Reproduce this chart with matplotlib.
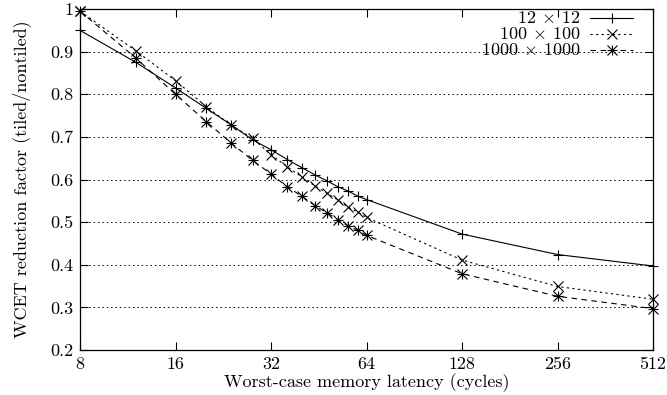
import matplotlib

matplotlib.use("Agg")
import matplotlib.pyplot as plt
from matplotlib.lines import Line2D

plt.rcParams["font.family"] = ["cmr10", "DejaVu Serif"]
plt.rcParams["mathtext.fontset"] = "cm"
plt.rcParams["axes.formatter.use_mathtext"] = True

latency = [8, 12, 16, 20, 24, 28, 32, 36, 40, 44, 48, 52, 56, 60, 64, 128, 256, 512]
tile_12 = [0.950, 0.875, 0.815, 0.767, 0.728, 0.693, 0.670, 0.647, 0.628, 0.611,
           0.597, 0.583, 0.573, 0.561, 0.553, 0.472, 0.424, 0.397]
tile_100 = [0.995, 0.902, 0.832, 0.771, 0.727, 0.697, 0.658, 0.630, 0.606, 0.585,
            0.568, 0.552, 0.535, 0.524, 0.511, 0.411, 0.349, 0.319]
tile_1000 = [0.995, 0.885, 0.800, 0.736, 0.685, 0.645, 0.613, 0.583, 0.561, 0.539,
             0.522, 0.506, 0.491, 0.481, 0.469, 0.379, 0.326, 0.297]
labels = [r"12 $\times$ 12", r"100 $\times$ 100", r"1000 $\times$ 1000"]

x_ticks = [8, 16, 32, 64, 128, 256, 512]
y_ticks = [0.2, 0.3, 0.4, 0.5, 0.6, 0.7, 0.8, 0.9, 1.0]
y_tick_labels = ["0.2", "0.3", "0.4", "0.5", "0.6", "0.7", "0.8", "0.9", "1"]

FS = 13

fig = plt.figure(figsize=(6.67, 3.95), dpi=100)
ax = fig.add_axes([0.12, 0.114, 0.859, 0.863])

# gnuplot point types: plus, cross, asterisk (plus + cross)
styles = [
    dict(linestyle="-", markers=["+"]),
    dict(linestyle=(0, (2, 3)), markers=["x"]),
    dict(linestyle=(0, (5, 4)), markers=["+", "x"]),
]
series = [tile_12, tile_100, tile_1000]
for vals, st in zip(series, styles):
    ax.plot(latency, vals, color="black", lw=0.8, linestyle=st["linestyle"], clip_on=False)
    for m in st["markers"]:
        ax.plot(latency, vals, color="black", lw=0, marker=m, ms=7, mew=0.8, clip_on=False)

ax.set_xscale("log", base=2)
ax.set_xlim(8, 512)
ax.set_ylim(0.2, 1.0)
ax.set_xticks(x_ticks)
ax.set_xticklabels([str(t) for t in x_ticks])
ax.minorticks_off()
ax.set_yticks(y_ticks)
ax.set_yticklabels(y_tick_labels)
ax.tick_params(direction="in", top=True, right=True, length=6, width=0.8, labelsize=FS)
ax.tick_params(axis="y", pad=5)
ax.tick_params(axis="x", pad=5)
ax.yaxis.grid(True, color="black", linestyle=(0, (1.5, 3)), lw=0.7)
for sp in ax.spines.values():
    sp.set_linewidth(0.9)

ax.set_xlabel("Worst-case memory latency (cycles)", fontsize=FS, labelpad=1)
ax.set_ylabel("WCET reduction factor (tiled/nontiled)", fontsize=FS, labelpad=14)

# gnuplot-style legend: right-aligned text, sample on the right
for i, (lab, st) in enumerate(zip(labels, styles)):
    yy = 0.975 - i * 0.047
    ax.text(0.873, yy, lab, transform=ax.transAxes, ha="right", va="center", fontsize=FS)
    ax.add_line(Line2D([0.890, 0.965], [yy, yy], transform=ax.transAxes, color="black",
                       lw=0.8, linestyle=st["linestyle"]))
    for m in st["markers"]:
        ax.add_line(Line2D([0.928], [yy], transform=ax.transAxes, color="black",
                           marker=m, ms=7, mew=0.8))

fig.savefig("out.png", dpi=100)
